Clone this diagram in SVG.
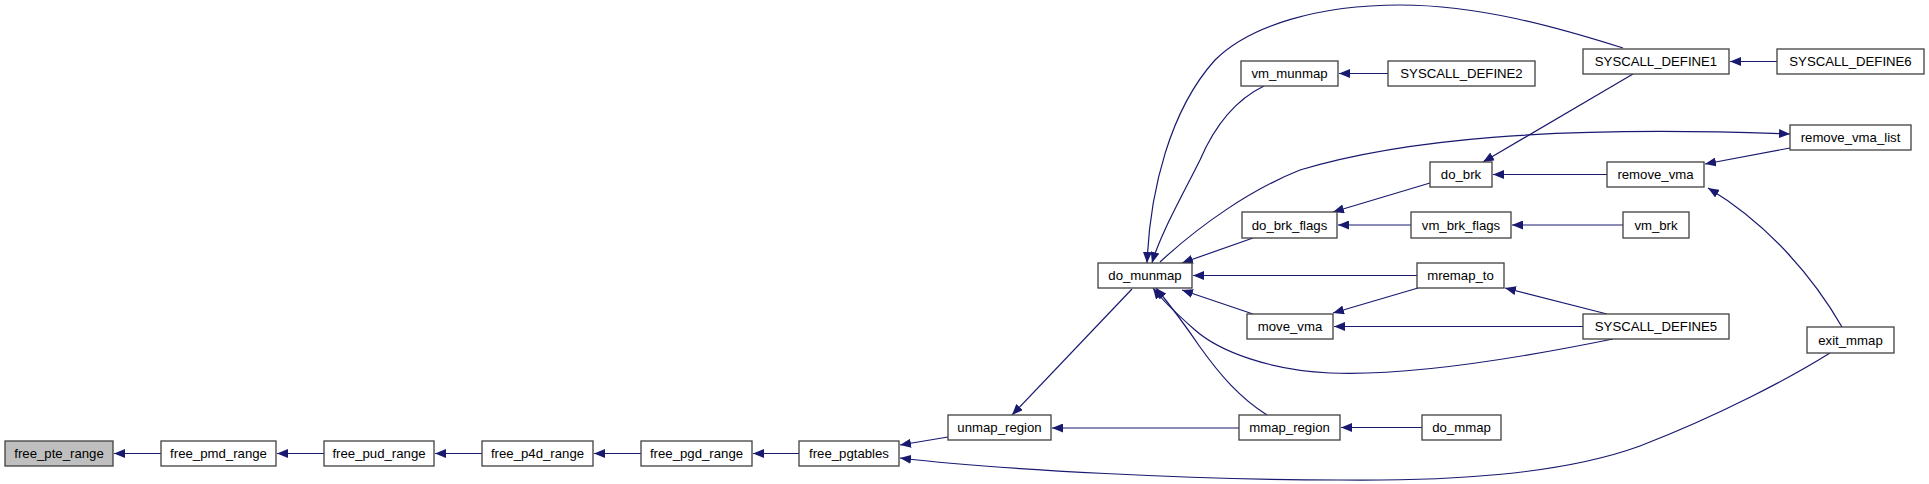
<svg xmlns="http://www.w3.org/2000/svg" width="1929" height="484" viewBox="0 0 1929 484">
<style>
.n rect{fill:#fff;stroke:#404040;stroke-width:1.3}
.n text{font-family:"Liberation Sans",Arial,sans-serif;font-size:13.2px;text-anchor:middle;fill:#000}
#free_pte_range rect{fill:#bfbfbf}
.e path{fill:none;stroke:#191970;stroke-width:1.2;marker-end:url(#ah)}
</style>
<defs>
<marker id="ah" markerWidth="12" markerHeight="9" refX="11" refY="4.5" orient="auto" markerUnits="userSpaceOnUse">
<path d="M0,0 L11,4.5 L0,9 z" fill="#191970"/>
</marker>
</defs>
<rect width="1929" height="484" fill="#fff"/>
<g id="connectors" class="e">
<path d="M161,453.5 L114,453.5"/>
<path d="M324,453.5 L277,453.5"/>
<path d="M482,453.5 L435,453.5"/>
<path d="M641,453.5 L594,453.5"/>
<path d="M799,453.5 L753,453.5"/>
<path d="M948,437 L900,445"/>
<path d="M1830,353 C1790,378 1720,415 1640,446 C1560,475 1450,481 1340,480 C1200,480 1000,470 900,458"/>
<path d="M1132,289 L1012,415"/>
<path d="M1239,428 L1052,428"/>
<path d="M1264,86 C1235,100 1215,125 1200,160 C1180,200 1160,235 1152,263"/>
<path d="M1623,48 C1560,28 1480,5 1400,5 C1320,5 1250,25 1215,60 C1170,110 1150,190 1147,263"/>
<path d="M1160,262 C1200,225 1250,190 1300,170 C1400,140 1550,125 1790,134"/>
<path d="M1253,238 L1182,263"/>
<path d="M1253,314 L1182,290"/>
<path d="M1417,275.5 L1193,275.5"/>
<path d="M1613,339 C1500,362 1400,376 1330,373 C1270,370 1220,352 1195,330 C1178,315 1162,300 1153,288"/>
<path d="M1267,415 C1240,398 1220,375 1200,347 C1185,325 1170,305 1156,288"/>
<path d="M1388,73.5 L1339,73.5"/>
<path d="M1777,61.5 L1730,61.5"/>
<path d="M1633,74 L1483,162"/>
<path d="M1790,148 L1705,164"/>
<path d="M1607,174.5 L1493,174.5"/>
<path d="M1842,327 C1815,280 1770,225 1708,188"/>
<path d="M1411,225 L1338,225"/>
<path d="M1430,183 L1333,212"/>
<path d="M1623,225 L1512,225"/>
<path d="M1418,288 L1333,313"/>
<path d="M1607,314 L1505,288"/>
<path d="M1583,326.5 L1334,326.5"/>
<path d="M1422,427.5 L1341,427.5"/>
</g>
<g id="free_pte_range" class="n"><rect x="5" y="441" width="108" height="25"/><text x="59" y="458">free_pte_range</text></g>
<g id="free_pmd_range" class="n"><rect x="161" y="441" width="115" height="25"/><text x="218.5" y="458">free_pmd_range</text></g>
<g id="free_pud_range" class="n"><rect x="324" y="441" width="110" height="25"/><text x="379" y="458">free_pud_range</text></g>
<g id="free_p4d_range" class="n"><rect x="482" y="441" width="111" height="25"/><text x="537.5" y="458">free_p4d_range</text></g>
<g id="free_pgd_range" class="n"><rect x="641" y="441" width="111" height="25"/><text x="696.5" y="458">free_pgd_range</text></g>
<g id="free_pgtables" class="n"><rect x="799" y="441" width="100" height="25"/><text x="849" y="458">free_pgtables</text></g>
<g id="unmap_region" class="n"><rect x="948" y="415" width="103" height="25"/><text x="999.5" y="432">unmap_region</text></g>
<g id="do_munmap" class="n"><rect x="1098" y="263" width="94" height="25"/><text x="1145" y="280">do_munmap</text></g>
<g id="vm_munmap" class="n"><rect x="1241" y="61" width="97" height="25"/><text x="1289.5" y="78">vm_munmap</text></g>
<g id="SYSCALL_DEFINE2" class="n"><rect x="1388" y="61" width="147" height="25"/><text x="1461.5" y="78">SYSCALL_DEFINE2</text></g>
<g id="do_brk_flags" class="n"><rect x="1242" y="212" width="95" height="26"/><text x="1289.5" y="229.5">do_brk_flags</text></g>
<g id="move_vma" class="n"><rect x="1247" y="314" width="86" height="25"/><text x="1290" y="331">move_vma</text></g>
<g id="mmap_region" class="n"><rect x="1239" y="415" width="101" height="25"/><text x="1289.5" y="432">mmap_region</text></g>
<g id="do_brk" class="n"><rect x="1430" y="162" width="62" height="25"/><text x="1461" y="179">do_brk</text></g>
<g id="vm_brk_flags" class="n"><rect x="1411" y="212" width="100" height="26"/><text x="1461" y="229.5">vm_brk_flags</text></g>
<g id="mremap_to" class="n"><rect x="1417" y="263" width="87" height="25"/><text x="1460.5" y="280">mremap_to</text></g>
<g id="do_mmap" class="n"><rect x="1422" y="415" width="79" height="25"/><text x="1461.5" y="432">do_mmap</text></g>
<g id="SYSCALL_DEFINE1" class="n"><rect x="1583" y="49" width="146" height="25"/><text x="1656" y="66">SYSCALL_DEFINE1</text></g>
<g id="SYSCALL_DEFINE6" class="n"><rect x="1777" y="49" width="147" height="25"/><text x="1850.5" y="66">SYSCALL_DEFINE6</text></g>
<g id="remove_vma_list" class="n"><rect x="1790" y="125" width="121" height="25"/><text x="1850.5" y="142">remove_vma_list</text></g>
<g id="remove_vma" class="n"><rect x="1607" y="162" width="97" height="25"/><text x="1655.5" y="179">remove_vma</text></g>
<g id="vm_brk" class="n"><rect x="1623" y="212" width="66" height="26"/><text x="1656" y="229.5">vm_brk</text></g>
<g id="SYSCALL_DEFINE5" class="n"><rect x="1583" y="314" width="146" height="25"/><text x="1656" y="331">SYSCALL_DEFINE5</text></g>
<g id="exit_mmap" class="n"><rect x="1807" y="327" width="87" height="26"/><text x="1850.5" y="344.5">exit_mmap</text></g>
</svg>
